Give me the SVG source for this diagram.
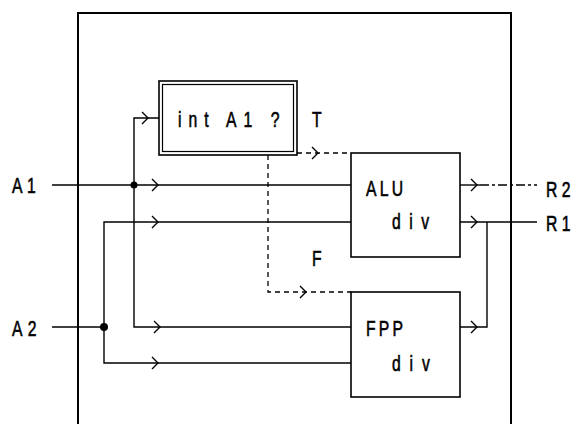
<svg xmlns="http://www.w3.org/2000/svg" width="579" height="425" viewBox="0 0 579 425">
<style>
.ln{fill:none;stroke:#000;stroke-width:1.4}
.dash{fill:none;stroke:#000;stroke-width:1.3;stroke-dasharray:5 4}
.dd{fill:none;stroke:#000;stroke-width:1.3;stroke-dasharray:9 3 3 3}
.box{fill:#fff;stroke:#000;stroke-width:1.6}
.frame{fill:none;stroke:#000;stroke-width:2}
.t{font-family:"Liberation Sans","DejaVu Sans",sans-serif;font-size:22.5px;fill:#000;stroke:#000;stroke-width:0.6}
.chev{fill:none;stroke:#000;stroke-width:1.4}
</style>
<defs>
<path id="ch" d="M-3,-6 L3,0 L-3,6"/>
</defs>
<rect width="579" height="425" fill="#fff"/>
<g id="frame">
<path class="frame" d="M78,424 V13 H511 V424"/>
</g>
<g id="connectors">
<path class="ln" d="M52,185 H351"/>
<path class="ln" d="M134,185 V118 H159"/>
<path class="ln" d="M134,185 V327 H351"/>
<path class="ln" d="M52,327 H104"/>
<path class="ln" d="M104,327 V222 H351"/>
<path class="ln" d="M104,327 V363 H351"/>
<path class="dash" d="M297,153 H351"/>
<path class="dash" d="M268,155 V292 H351"/>
<path class="ln" d="M460,185 H480"/>
<path class="dd" d="M480,185 H537"/>
<path class="ln" d="M460,222 H537"/>
<path class="ln" d="M460,327 H487 V222"/>
<circle cx="134" cy="185" r="3.5" fill="#000"/>
<circle cx="104" cy="327" r="4" fill="#000"/>
<g class="chev">
<use href="#ch" x="145" y="118"/>
<use href="#ch" x="155" y="185"/>
<use href="#ch" x="155" y="222"/>
<use href="#ch" x="157" y="327"/>
<use href="#ch" x="155" y="363"/>
<use href="#ch" x="315" y="153"/>
<use href="#ch" x="303" y="292"/>
<use href="#ch" x="474" y="185"/>
<use href="#ch" x="474" y="222"/>
<use href="#ch" x="474" y="327"/>
</g>
</g>
<g id="decision">
<rect class="box" x="159" y="81" width="138" height="74"/>
<rect fill="none" stroke="#000" stroke-width="1.2" x="162.5" y="84.5" width="131" height="67"/>
<text class="t" transform="translate(178,127) scale(0.7,1)" textLength="145" lengthAdjust="spacing">int A1 ?</text>
</g>
<g id="labelT"><text class="t" transform="translate(312,127) scale(0.7,1)">T</text></g>
<g id="labelF"><text class="t" transform="translate(312,266) scale(0.7,1)">F</text></g>
<g id="alu">
<rect class="box" x="351" y="153" width="109" height="104"/>
<text class="t" transform="translate(366,196) scale(0.7,1)" textLength="53" lengthAdjust="spacing">ALU</text>
<text class="t" transform="translate(392,229) scale(0.7,1)" textLength="53" lengthAdjust="spacing">div</text>
</g>
<g id="fpp">
<rect class="box" x="351" y="292" width="109" height="105"/>
<text class="t" transform="translate(366,336) scale(0.7,1)" textLength="53" lengthAdjust="spacing">FPP</text>
<text class="t" transform="translate(392,371) scale(0.7,1)" textLength="54" lengthAdjust="spacing">div</text>
</g>
<g id="A1"><text class="t" transform="translate(12,193) scale(0.7,1)" textLength="34" lengthAdjust="spacing">A1</text></g>
<g id="A2"><text class="t" transform="translate(12,336) scale(0.7,1)" textLength="35" lengthAdjust="spacing">A2</text></g>
<g id="R2"><text class="t" transform="translate(546,197) scale(0.7,1)" textLength="35" lengthAdjust="spacing">R2</text></g>
<g id="R1"><text class="t" transform="translate(546,231) scale(0.7,1)" textLength="35" lengthAdjust="spacing">R1</text></g>
</svg>
